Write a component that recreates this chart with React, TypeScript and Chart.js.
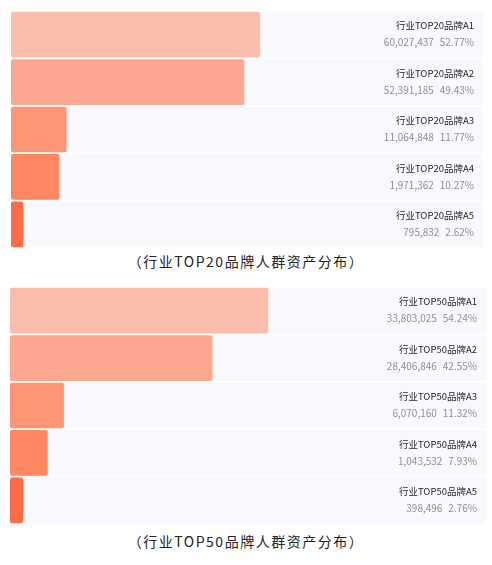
import React, { useEffect, useRef } from "react";
import { Chart, registerables } from "chart.js";

Chart.register(...registerables);

const categories1 = ["行业TOP20品牌A1", "行业TOP20品牌A2", "行业TOP20品牌A3", "行业TOP20品牌A4", "行业TOP20品牌A5"];
const counts1 = [60027437, 52391185, 11064848, 1971362, 795832];
const shares1 = [52.77, 49.43, 11.77, 10.27, 2.62];
const caption1 = "（行业TOP20品牌人群资产分布）";

const categories2 = ["行业TOP50品牌A1", "行业TOP50品牌A2", "行业TOP50品牌A3", "行业TOP50品牌A4", "行业TOP50品牌A5"];
const counts2 = [33803025, 28406846, 6070160, 1043532, 398496];
const shares2 = [54.24, 42.55, 11.32, 7.93, 2.76];
const caption2 = "（行业TOP50品牌人群资产分布）";

const barColors = ["#fbbdac", "#fca78f", "#ff9574", "#ff8762", "#ff6c45"];

const FONT = "'Noto Sans CJK SC', 'Noto Sans', sans-serif";

type Props = {
  labels: string[];
  counts: number[];
  shares: number[];
  padLeft: number;
  padRight: number;
};

function BarPanel({ labels, counts, shares, padLeft, padRight }: Props) {
  const ref = useRef<HTMLCanvasElement | null>(null);
  useEffect(() => {
    if (!ref.current) return;
    const rowPlugin = {
      id: "rows",
      beforeDatasetsDraw(chart: any) {
        const ctx = chart.ctx;
        const area = chart.chartArea;
        const meta = chart.getDatasetMeta(0);
        ctx.save();
        ctx.fillStyle = "#f8f9fc";
        meta.data.forEach((el: any) => {
          const h = el.height;
          ctx.fillRect(area.left, el.y - h / 2, area.right - area.left, h);
        });
        ctx.restore();
      },
      afterDatasetsDraw(chart: any) {
        const ctx = chart.ctx;
        const area = chart.chartArea;
        const meta = chart.getDatasetMeta(0);
        const rx = area.right - 9;
        ctx.save();
        ctx.textAlign = "right";
        ctx.textBaseline = "middle";
        meta.data.forEach((el: any, i: number) => {
          ctx.fillStyle = "#262626";
          ctx.font = `9.5px ${FONT}`;
          ctx.fillText(labels[i], rx, el.y - 9);
          ctx.fillStyle = "#8f8f8f";
          ctx.font = `10px ${FONT}`;
          const pct = shares[i].toFixed(2) + "%";
          ctx.fillText(pct, rx, el.y + 8);
          const w = ctx.measureText(pct).width;
          ctx.fillText(counts[i].toLocaleString("en-US"), rx - w - 6, el.y + 8);
        });
        ctx.restore();
      },
    };
    const chart = new Chart(ref.current, {
      type: "bar",
      data: {
        labels,
        datasets: [
          {
            data: shares,
            backgroundColor: barColors,
            borderRadius: 2,
            borderSkipped: false,
            barPercentage: 1,
            categoryPercentage: 0.965,
          },
        ],
      },
      options: {
        indexAxis: "y",
        animation: false,
        responsive: true,
        maintainAspectRatio: false,
        layout: { padding: { left: padLeft, right: padRight, top: 11, bottom: 2 } },
        scales: {
          x: { display: false, min: 0, max: 100 },
          y: { display: false },
        },
        plugins: {
          legend: { display: false },
          tooltip: { enabled: false },
        },
      },
      plugins: [rowPlugin],
    });
    return () => chart.destroy();
  }, []);
  return (
    <div style={{ position: "relative", width: 492, height: 250 }}>
      <canvas ref={ref} />
    </div>
  );
}

const captionStyle: React.CSSProperties = {
  position: "absolute",
  left: 0,
  width: 492,
  textAlign: "center",
  fontFamily: FONT,
  fontSize: 14,
  fontWeight: 400,
  letterSpacing: 1.5,
  color: "#222",
  lineHeight: "20px",
};

export default function App() {
  return (
    <div style={{ position: "fixed", left: 0, top: 0, width: 492, height: 565, background: "#fff", overflow: "hidden" }}>
      <div style={{ position: "absolute", left: 0, top: 0 }}>
        <BarPanel labels={categories1} counts={counts1} shares={shares1} padLeft={11} padRight={9} />
      </div>
      <div style={{ ...captionStyle, top: 251 }}>{caption1}</div>
      <div style={{ position: "absolute", left: 0, top: 276 }}>
        <BarPanel labels={categories2} counts={counts2} shares={shares2} padLeft={10} padRight={6} />
      </div>
      <div style={{ ...captionStyle, top: 531 }}>{caption2}</div>
    </div>
  );
}
